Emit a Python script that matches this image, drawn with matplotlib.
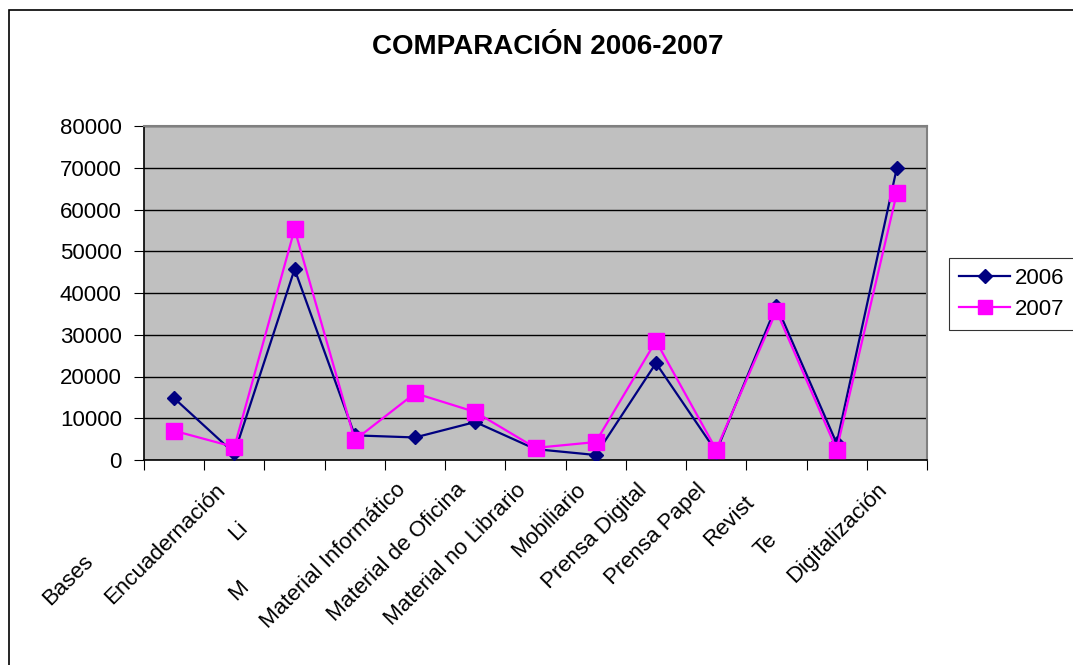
import matplotlib.pyplot as plt
import matplotlib.transforms as mtransforms
from matplotlib.patches import Rectangle
import numpy as np

plt.rcParams["font.family"] = ["Liberation Sans", "DejaVu Sans"]

# labels as they are visible in the picture (some are cut off)
categorias = ["Bases", "Encuadernación", "Li", "M", "Material Informático",
              "Material de Oficina", "Material no Librario", "Mobiliario",
              "Prensa Digital", "Prensa Papel", "Revist", "Te", "Digitalización"]
valores_2006 = [14800, 1600, 45700, 5900, 5400, 9100, 2600, 1200,
                23200, 2000, 37000, 4000, 70000]
valores_2007 = [7000, 3100, 55300, 4800, 16000, 11500, 2900, 4300,
                28500, 2500, 35700, 2500, 64000]
# cut-off labels sit further down-left along the diagonal (px)
desplazamiento = [101, 0, 53, 137, 0, 0, 0, 0, 0, 0, 18, 70, 0]

fig = plt.figure(figsize=(10.73, 6.65), dpi=100)
fig.patches.append(Rectangle((9 / 1073, -0.1), 1.2, 1 - 10 / 665 + 0.1,
                             transform=fig.transFigure, fill=False,
                             edgecolor="black", linewidth=1.2))

ax = fig.add_axes([144 / 1073, (665 - 460) / 665, (927 - 144) / 1073,
                   (460 - 126) / 665])
ax.set_facecolor("#C0C0C0")

x = np.arange(1, len(categorias) + 1)
ax.plot(x, valores_2006, color="#000080", marker="D", markersize=7.5,
        linewidth=1.6, label="2006", zorder=3)
ax.plot(x, valores_2007, color="#FF00FF", marker="s", markersize=11.5,
        linewidth=1.6, label="2007", zorder=4)

ax.set_xlim(0.5, len(categorias) + 0.5)
ax.set_ylim(0, 80000)
ax.set_yticks(np.arange(0, 80001, 10000))
ax.yaxis.grid(True, color="black", linewidth=1)
ax.set_axisbelow(True)

ax.set_xticks(np.arange(0.5, len(categorias) + 1, 1))
ax.set_xticklabels([])
ax.set_xticks(x, minor=True)
ax.set_xticklabels(categorias, minor=True, rotation=45, ha="right",
                   va="top", rotation_mode="anchor")
ax.tick_params(axis="x", which="minor", length=0, pad=14, labelsize=16)
ax.tick_params(axis="x", which="major", length=7, direction="out",
               color="black")
ax.tick_params(axis="y", length=7, labelsize=16, pad=9)

for lab, d in zip(ax.get_xticklabels(minor=True), desplazamiento):
    dx = -20 - d / np.sqrt(2)
    dy = 0 - d / np.sqrt(2)
    off = mtransforms.ScaledTranslation(dx / 100, dy / 100, fig.dpi_scale_trans)
    lab.set_transform(lab.get_transform() + off)

for s in ["top", "right"]:
    ax.spines[s].set_color("#808080")
    ax.spines[s].set_linewidth(1.5)
for s in ["left", "bottom"]:
    ax.spines[s].set_color("black")
    ax.spines[s].set_linewidth(1.2)

fig.text(548 / 1073, 1 - 47 / 665, "COMPARACIÓN 2006-2007", ha="center",
         va="center", fontsize=20, fontweight="bold")

leg = ax.legend(loc="upper left", bbox_to_anchor=(949 / 1073, 1 - 258 / 665),
                bbox_transform=fig.transFigure, fontsize=16, frameon=True,
                fancybox=False, edgecolor="black", borderpad=0.45,
                handlelength=2.3, handletextpad=0.2, labelspacing=0.45,
                borderaxespad=0, markerscale=0.9)
leg.get_frame().set_linewidth(0.8)

fig.savefig("out.png", dpi=100)
